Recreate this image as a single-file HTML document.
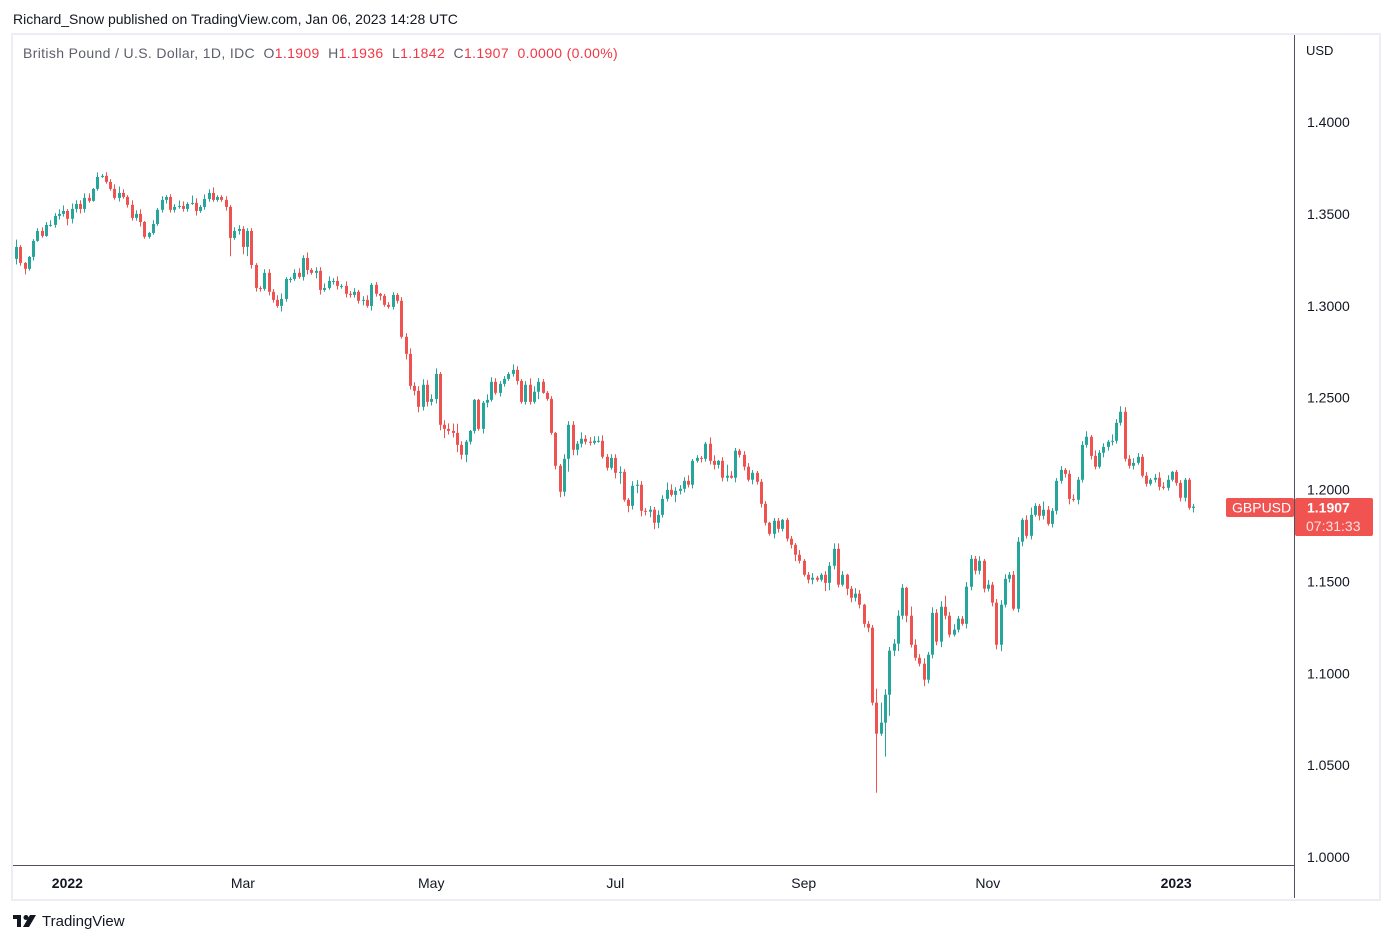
<!DOCTYPE html>
<html><head><meta charset="utf-8">
<style>
html,body{margin:0;padding:0;background:#fff;width:1392px;height:944px;overflow:hidden;font-family:"Liberation Sans","DejaVu Sans",sans-serif;}
#wrap{position:relative;width:1392px;height:944px;}
.t{position:absolute;white-space:nowrap;}
</style></head>
<body>
<div id="wrap">
<div class="t" style="left:13px;top:11px;font-size:14px;color:#131722;">Richard_Snow published on TradingView.com, Jan 06, 2023 14:28 UTC</div>
<div style="position:absolute;left:11px;top:33px;width:1366px;height:864px;border:2px solid #eceef3;"></div>
<div class="t" style="left:23px;top:45px;font-size:14px;letter-spacing:0.35px;color:#5d606b;">British Pound / U.S. Dollar, 1D, IDC&nbsp;&nbsp;O<span style="color:#f23645">1.1909</span>&nbsp;&nbsp;H<span style="color:#f23645">1.1936</span>&nbsp;&nbsp;L<span style="color:#f23645">1.1842</span>&nbsp;&nbsp;C<span style="color:#f23645">1.1907</span>&nbsp;&nbsp;<span style="color:#f23645">0.0000 (0.00%)</span></div>
<svg id="chart" width="1392" height="944" style="position:absolute;left:0;top:0;" xmlns="http://www.w3.org/2000/svg">
<line x1="1294.5" y1="35" x2="1294.5" y2="898" stroke="#50535e" stroke-width="1"/>
<line x1="13" y1="865.5" x2="1294" y2="865.5" stroke="#50535e" stroke-width="1"/>
<text x="1306" y="55" font-size="13" fill="#131722" font-family="Liberation Sans, sans-serif">USD</text>
<g id="yticks"></g><g id="xticks"></g><g id="candles"></g>
<rect x="1226" y="498" width="68" height="19" rx="2" fill="#f05350"/>
<text x="1232" y="512.5" font-size="14" fill="#fff" font-family="Liberation Sans, sans-serif">GBPUSD</text>
<rect x="1295" y="498" width="78" height="38" rx="2" fill="#f05350"/>
<text x="1307" y="512.5" font-size="14" font-weight="bold" fill="#fff" font-family="Liberation Sans, sans-serif">1.1907</text>
<text x="1306" y="531" font-size="14" fill="#fde0df" font-family="Liberation Sans, sans-serif">07:31:33</text>
</svg>
<div style="position:absolute;left:13px;top:913px;height:18px;">
  <svg width="26" height="14" style="position:absolute;left:0;top:2px"><rect x="0" y="0" width="8" height="4" fill="#131722"/><rect x="4" y="0" width="4" height="12" fill="#131722"/><circle cx="13" cy="2.5" r="2.5" fill="#131722"/><polygon points="17,0 23,0 16,12 10,12" fill="#131722"/></svg>
  <span class="t" style="left:29px;top:0;font-size:15px;color:#131722;">TradingView</span>
</div>
</div>
<script>
const closes=[1.3320,1.3233,1.3201,1.3266,1.3353,1.3407,1.3380,1.3440,1.3440,1.3489,1.3500,1.3516,1.3473,1.3527,1.3554,1.3527,1.3587,1.3571,1.3636,1.3701,
1.3707,1.3674,1.3636,1.3587,1.3614,1.3592,1.3549,1.3478,1.3500,1.3456,1.3375,1.3396,1.3445,1.3522,1.3576,1.3592,1.3522,1.3538,1.3543,1.3527,
1.3554,1.3560,1.3516,1.3538,1.3581,1.3614,1.3576,1.3592,1.3576,1.3538,1.3369,1.3407,1.3418,1.3320,1.3407,1.3222,1.3097,1.3092,1.3179,1.3076,
1.3032,1.2999,1.3037,1.3146,1.3146,1.3179,1.3157,1.3260,1.3195,1.3179,1.3190,1.3086,1.3097,1.3135,1.3135,1.3108,1.3108,1.3065,1.3059,1.3076,
1.3027,1.3032,1.2999,1.3114,1.3065,1.3054,1.3005,1.2994,1.3059,1.3027,1.2831,1.2738,1.2564,1.2537,1.2450,1.2570,1.2477,1.2493,1.2629,1.2352,
1.2330,1.2319,1.2308,1.2243,1.2189,1.2260,1.2319,1.2488,1.2330,1.2472,1.2488,1.2586,1.2526,1.2575,1.2602,1.2629,1.2651,1.2591,1.2477,1.2570,
1.2477,1.2532,1.2586,1.2526,1.2493,1.2308,1.2129,1.1988,1.2167,1.2352,1.2216,1.2249,1.2276,1.2260,1.2254,1.2265,1.2265,1.2178,1.2118,1.2172,
1.2091,1.2096,1.1944,1.1911,1.2020,1.2026,1.1884,1.1879,1.1890,1.1819,1.1862,1.1949,1.1998,1.1971,1.1993,1.2004,1.2047,1.2026,1.2156,1.2172,
1.2167,1.2249,1.2156,1.2134,1.2156,1.2064,1.2075,1.2064,1.2211,1.2189,1.2124,1.2053,1.2091,1.2042,1.1922,1.1819,1.1759,1.1830,1.1786,1.1835,
1.1732,1.1699,1.1645,1.1612,1.1536,1.1509,1.1520,1.1509,1.1536,1.1492,1.1585,1.1677,1.1482,1.1536,1.1460,1.1411,1.1433,1.1373,1.1269,1.1248,
1.0840,1.0671,1.0731,1.0883,1.1123,1.1161,1.1313,1.1465,1.1313,1.1155,1.1084,1.1052,1.0965,1.1101,1.1329,1.1172,1.1362,1.1313,1.1210,1.1237,
1.1297,1.1269,1.1471,1.1623,1.1558,1.1612,1.1460,1.1482,1.1384,1.1155,1.1373,1.1514,1.1536,1.1351,1.1716,1.1835,1.1748,1.1862,1.1911,1.1857,
1.1890,1.1813,1.1884,1.2047,1.2107,1.2085,1.1949,1.1944,1.2053,1.2243,1.2287,1.2183,1.2124,1.2200,1.2232,1.2260,1.2265,1.2363,1.2423,1.2167,
1.2129,1.2145,1.2178,1.2075,1.2031,1.2053,1.2064,1.2015,1.2009,1.2053,1.2096,1.2036,1.1955,1.2053,1.1900,1.1907];
const firstOpen=1.3255;
// wick lengths in pips (0.0001) above and below the body
const upWicks=[40,10,5,5,10,15,20,15,25,15,25,30,10,30,20,20,25,25,5,25,
10,20,15,25,35,20,10,25,20,25,5,5,20,10,20,10,15,15,30,25,
10,40,25,10,25,20,30,10,10,20,10,20,20,15,15,15,10,10,20,20,
15,25,30,10,10,20,25,15,30,10,20,20,25,25,15,25,10,25,15,20,
10,20,25,10,15,5,10,15,15,10,20,20,30,20,25,30,25,25,30,10,
25,30,40,50,20,10,5,5,5,10,30,25,20,15,15,10,30,20,10,20,
35,30,20,15,10,15,5,10,25,20,20,15,35,20,25,25,25,30,15,20,
20,30,15,10,25,25,20,15,20,15,25,20,40,30,20,20,20,30,10,15,
10,10,35,30,5,20,60,25,15,10,20,20,15,10,15,15,5,15,15,5,
10,15,10,25,10,15,25,10,10,20,20,30,30,20,5,15,30,20,5,15,
15,76,109,30,20,25,30,20,5,50,30,20,30,15,30,20,30,60,20,30,
15,15,25,20,15,25,10,25,15,20,25,25,15,20,25,10,25,40,15,10,
45,20,15,15,20,10,20,25,15,20,30,10,30,15,20,10,35,20,30,25,
20,25,20,15,20,10,20,30,25,25,5,10,15,10,10,15];
const dnWicks=[30,15,30,10,20,5,10,5,10,15,20,15,35,25,20,25,20,10,5,10,
5,10,10,10,20,10,15,15,15,25,10,10,10,10,15,20,15,15,10,15,
15,5,25,10,15,15,10,10,10,20,100,10,20,40,50,20,20,15,10,20,
15,10,30,15,20,10,10,20,25,10,30,25,10,10,20,20,15,20,15,15,
15,25,10,25,15,25,10,10,15,15,10,30,20,25,30,20,25,20,25,30,
50,20,25,40,25,40,15,15,10,25,25,10,10,20,15,10,15,20,10,15,
15,10,40,5,10,10,20,30,25,70,30,30,20,15,15,10,10,10,15,10,
30,60,10,35,20,40,30,20,30,35,30,15,15,10,40,20,20,15,20,10,
20,15,20,25,20,20,20,5,25,15,20,10,25,15,20,15,10,25,20,15,
15,20,35,15,10,20,25,10,10,45,40,20,15,10,35,25,20,20,20,25,
15,321,11,185,115,30,40,20,35,15,15,15,35,20,20,20,30,20,15,10,
15,10,25,20,20,20,20,15,20,25,35,15,20,10,20,25,15,20,10,25,
20,10,20,20,15,20,30,10,25,15,15,20,15,10,25,20,20,15,15,15,
15,20,10,10,15,10,15,20,10,15,10,15,20,20,10,25];
const yTickValues=[1.40,1.35,1.30,1.25,1.20,1.15,1.10,1.05,1.00];
const xTickLabels=["2022","Mar","May","Jul","Sep","Nov","2023"];
const xTickIndex=[12,53,97,140,184,227,271];
const xTickBold=[true,false,false,false,false,false,true];

const NS="http://www.w3.org/2000/svg";
function yScale(p){return 122+(1.40-p)*1837.5;}
function xScale(i){return 16+i*4.281;}
function mk(tag,attrs,parent){const e=document.createElementNS(NS,tag);for(const k in attrs)e.setAttribute(k,attrs[k]);parent.appendChild(e);return e;}

const yg=document.getElementById('yticks');
yTickValues.forEach(v=>{
  const t=mk('text',{x:1307,y:yScale(v)+5,'font-size':14,fill:'#131722','font-family':'Liberation Sans, sans-serif'},yg);
  
  
  t.textContent=v.toFixed(4);
});
const xg=document.getElementById('xticks');
xTickLabels.forEach((lab,k)=>{
  const t=mk('text',{x:xScale(xTickIndex[k]),y:888,'font-size':14,'text-anchor':'middle',fill:'#131722','font-weight':xTickBold[k]?'bold':'normal','font-family':'Liberation Sans, sans-serif'},xg);
  
  
  t.textContent=lab;
});
const cg=document.getElementById('candles');
for(let i=0;i<closes.length;i++){
  const o=i===0?firstOpen:closes[i-1];
  const c=closes[i];
  const up=c>=o;
  const col=up?'#26a69a':'#ef5350';
  const hi=Math.max(o,c)+(upWicks[i]||0)/10000;
  const lo=Math.min(o,c)-(dnWicks[i]||0)/10000;
  const x=Math.round(xScale(i));
  const g=mk('g',{},cg);
  
  
  mk('rect',{x:x,y:yScale(hi),width:1,height:Math.max(1,yScale(lo)-yScale(hi)),fill:col},g);
  const top=yScale(Math.max(o,c)),bot=yScale(Math.min(o,c));
  mk('rect',{x:x-1,y:top,width:3,height:Math.max(1,bot-top),fill:col},g);
}
</script>
</body></html>
